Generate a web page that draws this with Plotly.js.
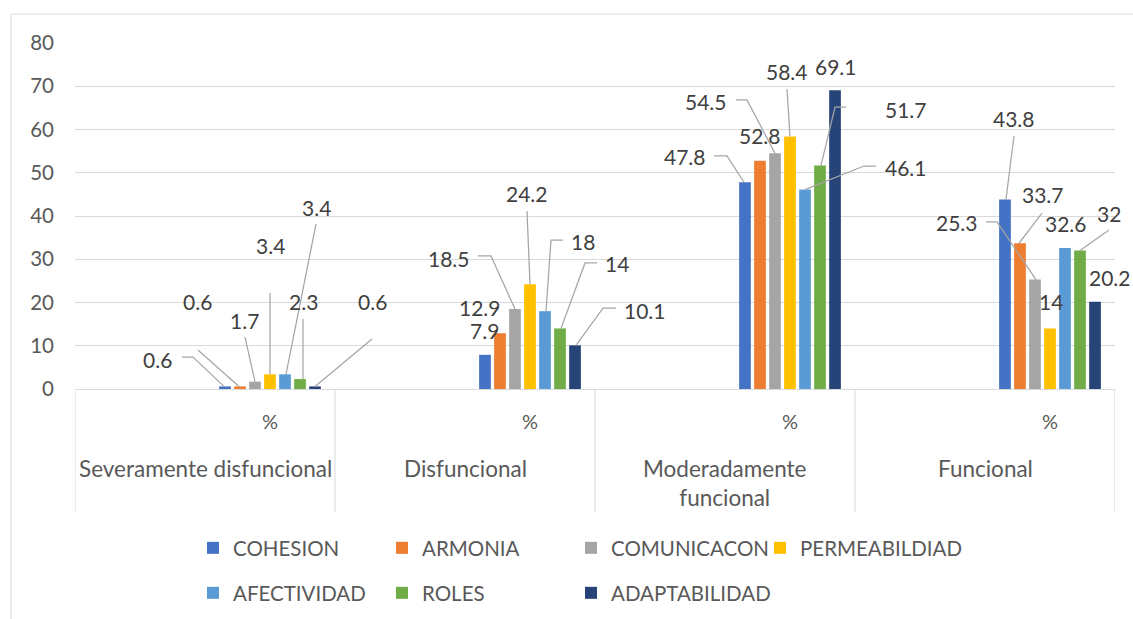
<!DOCTYPE html>
<html><head><meta charset="utf-8">
<script src="https://cdn.plot.ly/plotly-3.0.1.min.js"></script>
<style>html,body{margin:0;padding:0;background:#fff}#chart{width:1133px;height:619px}</style>
</head><body><div id="chart"></div>
<script>
// ---- data ----
const groups = ["Severamente disfuncional", "Disfuncional", "Moderadamente<br>funcional", "Funcional"];
const subLabel = "%";
const seriesNames = ["COHESION", "ARMONIA", "COMUNICACON", "PERMEABILDIAD", "AFECTIVIDAD", "ROLES", "ADAPTABILIDAD"];
const cohesion      = [0.6, 7.9, 47.8, 43.8];
const armonia       = [0.6, 12.9, 52.8, 33.7];
const comunicacion  = [1.7, 18.5, 54.5, 25.3];
const permeabilidad = [3.4, 24.2, 58.4, 14];
const afectividad   = [3.4, 18, 46.1, 32.6];
const roles         = [2.3, 14, 51.7, 32];
const adaptabilidad = [0.6, 10.1, 69.1, 20.2];
const yTicks = [0, 10, 20, 30, 40, 50, 60, 70, 80];

// ---- styles ----
const colors = ["#4472C4", "#ED7D31", "#A5A5A5", "#FFC000", "#5B9BD5", "#70AD47", "#264478"];
const FONT = "Lato, 'Open Sans', sans-serif";
const X_STEP = 2;          // each group = empty slot + "%" slot
const BARGAP = 0.596;
const W = 1133, H = 619;
const M = {l: 75, r: 18, t: 43, b: 230};
const plotW = W - M.l - M.r, plotH = H - M.t - M.b;
const px2py = p => (H - M.b - p) / plotH;   // page pixel y -> paper y
const px2px = p => (p - M.l) / plotW;       // page pixel x -> paper x

// label positions (pixel offsets from bar top: dx right, dy up) and leader lines
const labelPos = [
  [[-67, 27.4, [[-43, 29.4], [-32, 29.4], [-1, 0]]], [0, 24.8, null], [-60, 25.3, [[-31, 26.3], [-18, 26.3], [-1, 0]]], [9, 80.6, [[9, 63.6], [1, 0]]]],
  [[-42, 85.4, [[-42, 36.4], [-1, 0]]], [-20, 26.2, null], [0, 25.6, null], [23, 49.2, [[22, 30.2], [-1, 0]]]],
  [[-10, 61.6, [[-10, 44.6], [0, 0]]], [-66, 50, [[-37, 53], [-24, 53], [0, 0]]], [-69, 51.3, [[-39, 53.3], [-28, 53.3], [0, 0]]], [-78, 56.6, [[-49, 57.6], [-38, 57.6], [1, 0]]]],
  [[0, 129.3, [[0, 81.3], [0, 0]]], [-3, 91.3, [[-3, 73.3], [0, 0]]], [-3, 65.4, [[-3, 47.4], [0, 0]]], [1, 26.5, null]],
  [[31, 167.3, [[31, 150.3], [1, 0]]], [38, 70.1, [[18, 71.1], [6, 71.1], [1, 0]]], [101, 22.6, [[71, 23.6], [59, 23.6], [0, 0]]], [1, 25, null]],
  [[3, 78, [[3, 60], [3, 0]]], [57, 64.5, [[37, 65.5], [25, 65.5], [1, 0]]], [86, 56.4, [[26, 58.4], [15, 58.4], [1, 0]]], [29, 37.6, [[29, 20.6], [0, 0]]]],
  [[57, 85.4, [[57, 47.4], [0, 0]]], [70, 35.3, [[41, 37.3], [28, 37.3], [1, 0]]], [1, 24.1, null], [15, 24.6, null]]
];

const seriesValues = [cohesion, armonia, comunicacion, permeabilidad, afectividad, roles, adaptabilidad];
const xPos = groups.map((g, i) => X_STEP * i + 1);
const groupCenter = groups.map((g, i) => X_STEP * i + (X_STEP - 1) / 2);
const nSeries = seriesNames.length;
const slot = X_STEP * (1 - BARGAP) / nSeries;

const legendId = j => (j === 0 ? "legend" : "legend" + (j + 1));

const traces = seriesNames.map((name, j) => ({
  type: "bar", name: name, x: xPos, y: seriesValues[j],
  marker: {color: colors[j]}, hoverinfo: "skip",
  legend: legendId(j)
}));

const annotations = [];
const shapes = [];

// outer chart border
shapes.push({type: "rect", xref: "paper", yref: "paper", x0: px2px(11), x1: 1.2, y0: -1, y1: px2py(14),
  line: {color: "#D9D9D9", width: 1}, fillcolor: "rgba(0,0,0,0)", layer: "below"});

// category dividers
for (let i = 0; i <= groups.length; i++) {
  const xb = X_STEP * i - 0.5;
  shapes.push({type: "line", xref: "x", yref: "paper", x0: xb, x1: xb, y0: 0, y1: px2py(512),
    line: {color: "#D9D9D9", width: 1}});
}

// category labels
groups.forEach((g, i) => {
  annotations.push({xref: "x", yref: "paper", x: xPos[i], y: px2py(421), text: subLabel, showarrow: false,
    xanchor: "center", yanchor: "middle", font: {family: FONT, size: 20, color: "#595959"}});
  annotations.push({xref: "x", yref: "paper", x: groupCenter[i], y: px2py(453), text: g, showarrow: false,
    xanchor: "center", yanchor: "top", font: {family: FONT, size: 22.5, color: "#595959"}});
});

// data labels with leader lines
seriesValues.forEach((vals, j) => vals.forEach((v, i) => {
  const bx = xPos[i] + (j - (nSeries - 1) / 2) * slot;
  const p = labelPos[j][i];
  annotations.push({xref: "x", yref: "y", x: bx, y: v, text: String(v), showarrow: false,
    xshift: p[0], yshift: p[1], xanchor: "center", yanchor: "middle",
    font: {family: FONT, size: 21, color: "#404040"}});
  if (p[2]) {
    shapes.push({type: "path", xref: "x", yref: "y", xsizemode: "pixel", ysizemode: "pixel",
      xanchor: bx, yanchor: v,
      path: "M" + p[2].map(q => q[0] + "," + q[1]).join("L"),
      line: {color: "#A6A6A6", width: 1.25}});
  }
}));

const layout = {
  width: W, height: H, margin: Object.assign({autoexpand: false}, M),
  paper_bgcolor: "#fff", plot_bgcolor: "#fff",
  barmode: "group", bargap: BARGAP, bargroupgap: 0.22,
  showlegend: true,
  xaxis: {range: [-0.5, X_STEP * groups.length - 0.5], showticklabels: false, showgrid: false, zeroline: false,
    showline: true, linecolor: "#D9D9D9", linewidth: 1, ticks: "", fixedrange: true},
  yaxis: {range: [0, 80], tickvals: yTicks, ticktext: yTicks.map(String), showgrid: true,
    gridcolor: "#D9D9D9", gridwidth: 1, zeroline: false, showline: false, ticks: "",
    ticklabelstandoff: 20, tickfont: {family: FONT, size: 20.5, color: "#595959"}, fixedrange: true},
  annotations: annotations, shapes: shapes
};

// one legend per entry: 4 columns, 2 rows
const legendCols = [193, 382, 571, 760];
const legendRows = [548, 593];
seriesNames.forEach((name, j) => {
  layout[legendId(j)] = {orientation: "h", xanchor: "left", yanchor: "middle",
    x: px2px(legendCols[j % 4]), y: px2py(legendRows[Math.floor(j / 4)]),
    bgcolor: "rgba(0,0,0,0)", font: {family: FONT, size: 20.5, color: "#595959"}};
});

Plotly.newPlot("chart", traces, layout, {displayModeBar: false, staticPlot: true});
</script>
</body></html>
